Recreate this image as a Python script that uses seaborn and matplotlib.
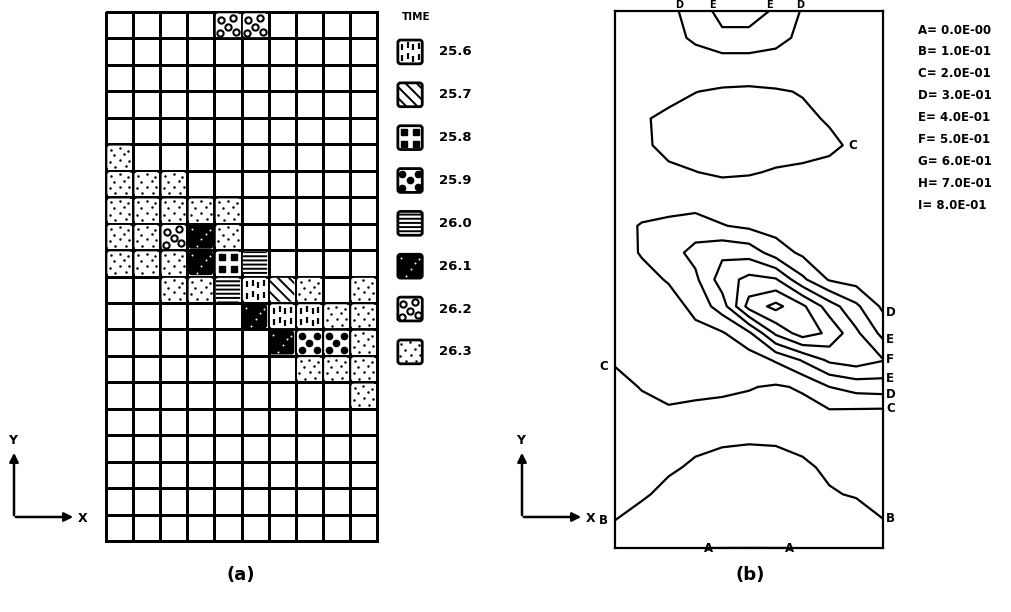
import numpy as np
import pandas as pd
import matplotlib
matplotlib.use("Agg")
import matplotlib.pyplot as plt
import seaborn as sns
from matplotlib.colors import ListedColormap
from matplotlib.patches import FancyBboxPatch

# ----------------------------------------------------
# Panel (a): cells reached by the front and the time they were reached
# ----------------------------------------------------
N_ROWS, N_COLS = 20, 10
cell_row = [0, 0, 5, 6, 6, 6, 7, 7, 7, 7, 7,
            8, 8, 8, 8, 8, 9, 9, 9, 9, 9, 9,
            10, 10, 10, 10, 10, 10, 10,
            11, 11, 11, 11, 11, 12, 12, 12, 12,
            13, 13, 13, 14]
cell_col = [4, 5, 0, 0, 1, 2, 0, 1, 2, 3, 4,
            0, 1, 2, 3, 4, 0, 1, 2, 3, 4, 5,
            2, 3, 4, 5, 6, 7, 9,
            5, 6, 7, 8, 9, 6, 7, 8, 9,
            7, 8, 9, 9]
cell_time = [26.2, 26.2, 26.3, 26.3, 26.3, 26.3, 26.3, 26.3, 26.3, 26.3, 26.3,
             26.3, 26.3, 26.2, 26.1, 26.3, 26.3, 26.3, 26.3, 26.1, 25.8, 26.0,
             26.3, 26.3, 26.0, 25.6, 25.7, 26.3, 26.3,
             26.1, 25.6, 25.6, 26.3, 26.3, 26.1, 25.9, 25.9, 26.3,
             26.3, 26.3, 26.3, 26.3]
legend_times = [25.6, 25.7, 25.8, 25.9, 26.0, 26.1, 26.2, 26.3]

# ----------------------------------------------------
# Panel (b): contoured field on the 11 x 21 node grid (top row first)
# ----------------------------------------------------
field_rows = [
    [.24, .25, .27, .35, .43, .43, .39, .29, .27, .25, .24],
    [.23, .24, .26, .32, .38, .38, .34, .27, .26, .24, .23],
    [.22, .23, .23, .24, .24, .24, .24, .23, .23, .22, .22],
    [.22, .22, .215, .201, .193, .19, .195, .203, .215, .22, .22],
    [.21, .205, .19, .18, .175, .175, .18, .19, .205, .21, .215],
    [.21, .21, .185, .175, .17, .17, .175, .18, .19, .21, .215],
    [.22, .215, .21, .201, .19, .195, .205, .21, .215, .22, .22],
    [.22, .23, .24, .245, .24, .235, .23, .225, .22, .22, .22],
    [.25, .31, .33, .35, .305, .28, .26, .24, .23, .22, .22],
    [.24, .31, .36, .43, .48, .46, .35, .28, .26, .24, .23],
    [.22, .26, .31, .38, .55, .63, .61, .42, .29, .26, .25],
    [.21, .23, .25, .33, .45, .74, .83, .72, .55, .42, .28],
    [.22, .23, .25, .27, .29, .38, .62, .75, .68, .52, .37],
    [.21, .23, .24, .245, .25, .25, .31, .41, .52, .55, .505],
    [.17, .205, .22, .22, .215, .205, .19, .21, .30, .34, .35],
    [.15, .17, .19, .18, .175, .17, .165, .17, .18, .17, .165],
    [.12, .12, .12, .115, .11, .108, .11, .115, .12, .12, .12],
    [.14, .13, .11, .09, .07, .05, .06, .09, .11, .13, .14],
    [.13, .11, .08, .05, .03, .025, .03, .05, .095, .105, .12],
    [.099, .07, .04, .02, .01, .005, .01, .02, .04, .07, .098],
    [.06, .04, .02, .00002, -.00002, -.00002, -.00002, .00002, .02, .04, .06],
]
contour_levels = [0.0, 0.1, 0.2, 0.3, 0.4, 0.5, 0.6, 0.7, 0.8]
contour_letters = ["A", "B", "C", "D", "E", "F", "G", "H", "I"]
closed_labelled = ["C"]

sns.set_style("white")
plt.rcParams['font.family'] = ['DejaVu Sans']
plt.rcParams['text.color'] = 'black'
plt.rcParams['hatch.linewidth'] = 1.4

# pattern offsets inside a unit cell (y measured downwards)
STIPPLE = [(0.18, 0.2), (0.5, 0.14), (0.82, 0.24), (0.3, 0.42), (0.68, 0.38),
           (0.14, 0.66), (0.52, 0.6), (0.86, 0.62), (0.34, 0.86), (0.72, 0.84)]
CIRCLES = [(0.25, 0.3), (0.68, 0.22), (0.5, 0.56), (0.22, 0.8), (0.78, 0.74)]
DASHES = [(0.2, 0.3), (0.42, 0.24), (0.62, 0.32), (0.82, 0.26),
          (0.2, 0.72), (0.42, 0.66), (0.62, 0.76), (0.82, 0.7)]
SQUARES = [(0.27, 0.27), (0.73, 0.27), (0.27, 0.73), (0.73, 0.73)]
QUINCUNX = [(0.22, 0.24), (0.78, 0.24), (0.5, 0.5), (0.22, 0.78), (0.78, 0.76)]

MARKS = {
    25.6: (DASHES, '|', 5, 'black', 1.6, 'black'),
    25.8: (SQUARES, 's', 4.5, 'black', 1, 'black'),
    25.9: (QUINCUNX, 'o', 4.5, 'black', 1, 'black'),
    26.1: (STIPPLE[::2], 'o', 1.4, 'white', 0, 'white'),
    26.2: (CIRCLES, 'o', 4.5, 'white', 1.5, 'black'),
    26.3: (STIPPLE, 'o', 1.8, 'black', 0, 'black'),
}
HATCHES = {25.7: '\\\\\\', 26.0: '----'}


def draw_pattern(ax, x, y, t, border=0.0):
    face = 'black' if t == 26.1 else 'white'
    ax.add_patch(FancyBboxPatch((x + 0.05, y + 0.05), 0.9, 0.9,
                                boxstyle='round,pad=0,rounding_size=0.1',
                                facecolor=face, edgecolor='black', linewidth=border,
                                hatch=HATCHES.get(t), clip_on=False, zorder=3))
    if t in MARKS:
        offs, marker, size, fc, mew, ec = MARKS[t]
        px = [x + dx for dx, dy in offs]
        py = [y + dy for dx, dy in offs]
        ax.plot(px, py, linestyle='none', marker=marker, markersize=size,
                markerfacecolor=fc, markeredgecolor=ec, markeredgewidth=mew,
                clip_on=False, zorder=4)


fig = plt.figure(figsize=(10.12, 6.12), dpi=100)

# ---- grid (a)
ax_a = fig.add_axes([106 / 1012, 1 - 541 / 612, 271 / 1012, 529 / 612])
sns.heatmap(pd.DataFrame(np.zeros((N_ROWS, N_COLS))), cmap=ListedColormap(['white']),
            cbar=False, linewidths=2.0, linecolor='black',
            xticklabels=False, yticklabels=False, ax=ax_a)
ax_a.collections[0].set_clip_on(False)
for r, c, t in zip(cell_row, cell_col, cell_time):
    draw_pattern(ax_a, c, r, t)

# legend of panel (a), drawn beside the grid
ax_a.text(11.45, 0.2, 'TIME', ha='center', va='center', fontsize=7.5, fontweight='bold')
for i, t in enumerate(legend_times):
    yc = 1.51 + i * 1.62
    draw_pattern(ax_a, 10.72, yc - 0.5, t, border=2.0)
    ax_a.text(12.3, yc, f'{t:.1f}', ha='left', va='center', fontsize=9.5, fontweight='bold')

# ---- contours (b)
ax_b = fig.add_axes([615 / 1012, 1 - 548 / 612, 268 / 1012, 537 / 612])
Z = np.array(field_rows)[::-1]
xs = np.arange(Z.shape[1])
ys = np.arange(Z.shape[0])
cs = ax_b.contour(xs, ys, Z, levels=contour_levels, colors='black', linewidths=1.6)
ax_b.set_xlim(0, 10)
ax_b.set_ylim(0, 20)
ax_b.set_xticks([])
ax_b.set_yticks([])
for s in ax_b.spines.values():
    s.set_visible(True)
    s.set_color('black')
    s.set_linewidth(1.6)

lab_kw = dict(fontsize=8.5, fontweight='bold', clip_on=False)
for letter, segs in zip(contour_letters, cs.allsegs):
    placed = []
    for seg in segs:
        if len(seg) < 2:
            continue
        if np.allclose(seg[0], seg[-1]):
            if letter in closed_labelled:
                k = seg[:, 0].argmax()
                spots = [(seg[k, 0], seg[k, 1])]
            else:
                spots = []
        else:
            spots = [tuple(seg[0]), tuple(seg[-1])]
        for x, y in spots:
            if any(abs(x - px) + abs(y - py) < 0.4 for px, py in placed):
                continue
            placed.append((x, y))
            if x <= 0.01:
                ax_b.text(x - 0.25, y, letter, ha='right', va='center', **lab_kw)
            elif x >= 9.99:
                ax_b.text(x + 0.12, y, letter, ha='left', va='center', **lab_kw)
            elif y >= 19.99:
                ax_b.text(x, y + 0.02, letter, ha='center', va='bottom',
                          fontsize=7, fontweight='bold', clip_on=False)
            elif y <= 0.01:
                ax_b.text(x, y, letter, ha='center', va='center', **lab_kw)
            else:
                ax_b.text(x + 0.2, y, letter, ha='left', va='center', **lab_kw)

# ---- annotations in figure pixels
ax_o = fig.add_axes([0, 0, 1, 1])
ax_o.set_xlim(0, 1012)
ax_o.set_ylim(612, 0)
ax_o.axis('off')
ax_o.patch.set_alpha(0)

for v, lev in zip(contour_levels, contour_letters):
    txt = '0.0E-00' if v == 0 else f'{v * 10:.1f}E-01'
    ax_o.text(918, 30 + contour_levels.index(v) * 21.9, f'{lev}= {txt}',
              ha='left', va='center', fontsize=8.5, fontweight='bold')

arrow_kw = dict(arrowstyle='-|>', lw=1.8, color='black', mutation_scale=13)
for x0 in (14, 522):
    ax_o.annotate('', xy=(x0, 450), xytext=(x0, 518), arrowprops=arrow_kw)
    ax_o.annotate('', xy=(x0 + 62, 517), xytext=(x0 - 1, 517), arrowprops=arrow_kw)
    ax_o.text(x0 - 1, 441, 'Y', ha='center', va='center', fontsize=9, fontweight='bold')
    ax_o.text(x0 + 64, 518, 'X', ha='left', va='center', fontsize=9, fontweight='bold')

ax_o.text(241, 575, '(a)', ha='center', va='center', fontsize=13, fontweight='bold')
ax_o.text(750, 575, '(b)', ha='center', va='center', fontsize=13, fontweight='bold')

fig.savefig('out.png', dpi=100)
plt.close(fig)
